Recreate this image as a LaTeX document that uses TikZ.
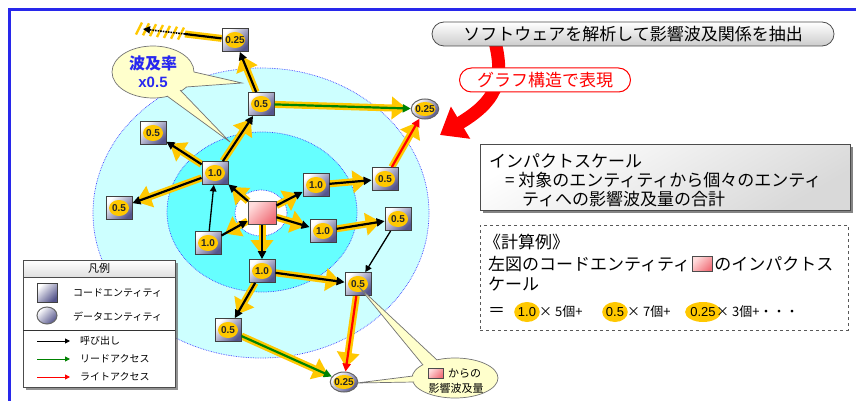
\documentclass[tikz,border=0pt]{standalone}
\usepackage{fontspec}
\setmainfont{Liberation Sans}
\newfontfamily\jp{Noto Sans CJK JP}
\usetikzlibrary{arrows.meta,shapes.geometric,shadows,positioning,calc}
\pgfdeclarelayer{bg}
\pgfdeclarelayer{mid}
\pgfsetlayers{bg,mid,main}
\newcommand\FS[1]{\fontsize{#1}{#1}\selectfont}
\definecolor{gold}{RGB}{255,200,0}
\definecolor{frameblue}{RGB}{40,40,235}
\definecolor{outercyan}{RGB}{205,255,255}
\definecolor{innercyan}{RGB}{102,255,255}
\definecolor{ringblue}{RGB}{60,60,255}
\definecolor{boxdark}{RGB}{85,85,140}
\definecolor{callyellow}{RGB}{255,255,204}
\definecolor{calloutblue}{RGB}{40,40,240}
\definecolor{readgreen}{RGB}{0,130,0}
\definecolor{corelight}{RGB}{255,220,220}
\definecolor{coredark}{RGB}{240,110,120}
\begin{document}
\begin{tikzpicture}[x=1pt,y=-1pt,
  entbox/.style={rectangle, draw=black!75, line width=0.8pt, minimum width=26pt, minimum height=23pt, inner sep=0pt, top color=white, bottom color=boxdark, shading angle=45},
  ent/.style={entbox, text=black!85, font=\bfseries\FS{10},
    path picture={\fill[gold] (path picture bounding box.center) ellipse (10pt and 8pt);}},
  datbox/.style={ellipse, draw=black!60, line width=1pt, minimum width=26pt, minimum height=20pt, inner sep=0pt, top color=white, bottom color=boxdark, shading angle=45},
  dat/.style={datbox, text=black!85, font=\bfseries\FS{10},
    path picture={\fill[gold] (path picture bounding box.center) ellipse (10.5pt and 7pt);}},
  core/.style={rectangle, draw=black!70, line width=0.8pt, minimum width=28pt, minimum height=23pt, inner sep=0pt, top color=corelight, bottom color=coredark, shading angle=45},
  halo/.style={draw=gold, line width=7pt, -{Triangle[length=15pt,width=22pt]}, shorten >=4pt},
  call/.style={draw=black, line width=2.2pt, -{Triangle[length=8pt,width=8pt]}},
  thincall/.style={draw=black, line width=1.3pt, -{Triangle[length=6.5pt,width=6.5pt]}},
  rd/.style={draw=readgreen, line width=2.2pt, -{Triangle[length=8pt,width=8pt]}},
  wr/.style={draw=red, line width=2.2pt, -{Triangle[length=8pt,width=8pt]}},
  jtext/.style={font=\jp\FS{17}, inner sep=0pt, anchor=west},
  ltext/.style={font=\jp\FS{10}, inner sep=0pt, anchor=west},
  ring/.style={draw=ringblue, densely dotted, line width=0.7pt},
  gbl/.style={ellipse, fill=gold, minimum width=25pt, minimum height=20pt, inner sep=0pt, font=\FS{13}},
  tailedge/.style={draw=black!55, line width=0.7pt},
]
\useasboundingbox (0,0) rectangle (856,401);
\begin{pgfonlayer}{bg}
  \fill[white] (0,0) rectangle (856,401);
  \fill[outercyan] (261,213) ellipse (168 and 145);
  \draw[ring] (261,213) ellipse (168 and 145);
  \fill[innercyan] (262,212) ellipse (95 and 80);
  \draw[ring] (262,212) ellipse (95 and 80);
  \fill[white] (261,213) ellipse (26 and 23);
  \draw[ring] (261,213) ellipse (26 and 23);
\end{pgfonlayer}

% frame
\draw[frameblue, line width=3pt] (856,9.5) -- (9.5,9.5) -- (9.5,401);

% red curved arrow
\coordinate (rs) at (495,42);
\coordinate (re) at (440,135);
\draw[red, line width=13pt, -{Triangle[length=24pt,width=36pt]}] (rs) .. controls (505,82) and (495,102) .. (re);

% title pills
\node[draw=black!70, line width=0.8pt, rounded corners=12pt, top color=white, bottom color=black!20, minimum width=402pt, minimum height=24pt, inner sep=0pt, font=\jp\FS{17}] (title) at (633,34) {ソフトウェアを解析して影響波及関係を抽出};
\node[draw=red, line width=1pt, rounded corners=12pt, fill=white, minimum width=171pt, minimum height=24pt, inner sep=0pt, text=red, font=\jp\FS{17}] (graph) at (545,80) {グラフ構造で表現};

% entities
\node[core] (c) at (262,213) {};
\node[ent] (n1) at (215,173) {1.0};
\node[ent] (n2) at (208,243) {1.0};
\node[ent] (n3) at (316,185) {1.0};
\node[ent] (n4) at (323,231) {1.0};
\node[ent] (n5) at (262,271) {1.0};
\node[ent] (p) at (385,179) {0.5};
\node[ent] (q) at (398,219) {0.5};
\node[ent] (r) at (358,284) {0.5};
\node[ent] (s) at (228,330) {0.5};
\node[ent] (t) at (261,104) {0.5};
\node[ent] (a) at (153,133) {0.5};
\node[ent] (b) at (119,208) {0.5};
\node[ent] (tt) at (235,40) {0.25};
\node[dat] (d1) at (425,109) {0.25};
\node[dat] (d2) at (344,382) {0.25};
\coordinate (fa) at (185,34);
\coordinate (fb) at (143,29);

% halos
\begin{pgfonlayer}{mid}
  \draw[halo] (c) -- (n1);
  \draw[halo] (c) -- (n2);
  \draw[halo] (c) -- (n3);
  \draw[halo] (c) -- (n4);
  \draw[halo] (c) -- (n5);
  \draw[halo] (n1) -- (a);
  \draw[halo] (n1) -- (b);
  \draw[halo] (n1) -- (t);
  \draw[halo] (t) -- (tt);
  \draw[halo] (t) -- (d1);
  \draw[halo] (n3) -- (p);
  \draw[halo] (p) -- (d1);
  \draw[halo] (n4) -- (q);
  \draw[halo] (n5) -- (r);
  \draw[halo] (n5) -- (s);
  \draw[halo] (r) -- (d2);
  \draw[halo] (s) -- (d2);
  \draw[gold, line width=7pt] (tt) -- (fa);
  \foreach \hx in {139,146,...,181} {
    \pgfmathsetmacro\hy{29+(\hx-143)*0.12}
    \draw[gold, line width=2.4pt] (\hx-3,\hy+6) -- (\hx+3,\hy-6);
  }
\end{pgfonlayer}

% arrows
\draw[call] (c) -- (n1);
\draw[call] (n2) -- (c);
\draw[call] (c) -- (n3);
\draw[call] (c) -- (n4);
\draw[call, line width=2.8pt] (c) -- (n5);
\draw[thincall] (n2) -- (n1);
\draw[call] (n1) -- (a);
\draw[call] (n1) -- (b);
\draw[call] (n1) -- (t);
\draw[call] (t) -- (tt);
\draw[rd] (t) -- (d1);
\draw[call] (n3) -- (p);
\draw[wr] (p) -- (d1);
\draw[call] (n4) -- (q);
\draw[thincall] (q) -- (r);
\draw[call] (n5) -- (r);
\draw[call] (n5) -- (s);
\draw[wr] (r) -- (d2);
\draw[rd] (s) -- (d2);
\draw[black, line width=2.2pt] (tt) -- (fa);
\draw[black, line width=1.6pt, densely dotted, -{Triangle[length=7pt,width=7pt]}] (fa) -- (fb);

% callout 1
\node[ellipse, draw=black!55, line width=0.7pt, fill=callyellow, minimum width=82pt, minimum height=52pt, inner sep=0pt] (cl1) at (153,72) {};
\fill[callyellow] (194,72) -- (242,83) -- (186,87) -- (180,78) -- cycle;
\fill[callyellow] (167,96) -- (230,142) -- (180,90) -- (170,85) -- cycle;
\draw[tailedge] (194,72) -- (242,83) -- (186,87);
\draw[tailedge] (167,96) -- (230,142) -- (180,90);
\node[text=calloutblue, font=\jp\bfseries\FS{16}, inner sep=0pt] (cl1a) at (153,63) {波及率};
\node[text=calloutblue, font=\bfseries\FS{15}, inner sep=0pt] (cl1b) at (153,82) {x0.5};

% callout 2
\node[ellipse, draw=black!55, line width=0.7pt, fill=callyellow, minimum width=86pt, minimum height=40pt, inner sep=0pt] (cl2) at (455,378) {};
\fill[callyellow] (423,365) -- (359,287) -- (437,360) -- (440,368) -- cycle;
\fill[callyellow] (413,376) -- (357,383) -- (414,382) -- (420,379) -- cycle;
\draw[tailedge] (423,365) -- (359,287) -- (437,360);
\draw[tailedge] (413,376) -- (357,383) -- (414,382);
\node[core, minimum width=15pt, minimum height=10pt, line width=0.6pt] (cl2sq) at (435.5,373.5) {};
\node[font=\jp\FS{11}, inner sep=0pt, anchor=west] (cl2a) at (448,373.5) {からの};
\node[font=\jp\FS{11}, inner sep=0pt] (cl2b) at (456,388) {影響波及量};

% impact scale box
\node[draw=black!70, line width=0.8pt, minimum width=370pt, minimum height=66pt, top color=white, bottom color=black!15, shading angle=30, drop shadow={shadow xshift=3pt, shadow yshift=-3pt, fill=black!60, opacity=0.8}] (ibox) at (665,177) {};
\node[jtext] (i1) at (489,161) {インパクトスケール};
\node[jtext] (i2) at (505,180) {= 対象のエンティティから個々のエンティ};
\node[jtext] (i3) at (522,199) {ティへの影響波及量の合計};

% calculation box
\node[draw=black!65, dashed, line width=0.8pt, minimum width=368pt, minimum height=105pt] (cbox) at (664,277.5) {};
\node[jtext] (k1) at (484,242) {《計算例》};
\node[jtext] (k2) at (488,264) {左図のコードエンティティ};
\node[core, minimum width=20pt, minimum height=15pt, right=2pt of k2] (k2sq) {};
\node[jtext, xshift=1pt] (k2b) at (k2sq.east) {のインパクトス};
\node[jtext] (k3) at (488,284) {ケール};
\node[jtext] (k4) at (488,312) {＝};
\node[gbl] (e1) at (527,312) {1.0};
\node[font=\jp\FS{13}, inner sep=0pt, anchor=west] (t1) at (539,312) {× 5個+};
\node[gbl] (e2) at (615,312) {0.5};
\node[font=\jp\FS{13}, inner sep=0pt, anchor=west] (t2) at (627,312) {× 7個+};
\node[gbl] (e3) at (703,312) {0.25};
\node[font=\jp\FS{13}, inner sep=0pt, anchor=west] (t3) at (716,312) {× 3個+・・・};

% legend
\node[draw=black!70, line width=0.8pt, fill=white, minimum width=152pt, minimum height=127pt, drop shadow={shadow xshift=3pt, shadow yshift=-3pt, fill=black!60, opacity=0.7}] (leg) at (99,323.5) {};
\node[draw=black!70, line width=0.8pt, top color=white, bottom color=black!12, minimum width=152pt, minimum height=17pt, inner sep=0pt, font=\jp\FS{11}] (legh) at (99,268.5) {凡例};
\draw[black!80, line width=0.8pt] (23,330) -- (175,330);
\node[entbox, minimum width=20pt, minimum height=19pt] (lsq) at (47,292.5) {};
\node[datbox, minimum width=20pt, minimum height=17pt] (lel) at (47,315.5) {};
\node[ltext] (lt1) at (73,293) {コードエンティティ};
\node[ltext] (lt2) at (73,317) {データエンティティ};
\coordinate (la1) at (37,341); \coordinate (la2) at (70,341);
\coordinate (lb1) at (37,359); \coordinate (lb2) at (70,359);
\coordinate (lc1) at (37,377); \coordinate (lc2) at (70,377);
\draw[black, line width=1pt, -{Triangle[length=5pt,width=5pt]}] (la1) -- (la2);
\draw[readgreen, line width=1pt, -{Triangle[length=5pt,width=5pt]}] (lb1) -- (lb2);
\draw[red, line width=1pt, -{Triangle[length=5pt,width=5pt]}] (lc1) -- (lc2);
\node[ltext] (lt3) at (80,341) {呼び出し};
\node[ltext] (lt4) at (80,359) {リードアクセス};
\node[ltext] (lt5) at (80,377) {ライトアクセス};
\end{tikzpicture}
\end{document}
